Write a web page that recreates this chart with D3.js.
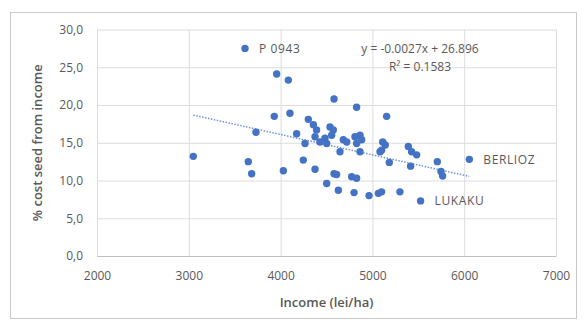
<!DOCTYPE html>
<html>
<head>
<meta charset="utf-8">
<script src="https://cdn.jsdelivr.net/npm/d3@7"></script>
<style>
  body { margin: 0; background: #fff; }
  text { font-family: "Open Sans", "Liberation Sans", sans-serif; fill: #595959; }
</style>
</head>
<body>
<div id="scatter"></div>
<script>
// income (lei/ha) vs % cost seed from income
var income = [3612, 3957, 4084, 4582, 4828, 3931, 4102, 4302, 5155, 3049,
  3732, 3648, 3685, 4030, 4175, 4266, 4247, 4375, 4502, 4582,
  4629, 4774, 4828, 4800, 4963, 5065, 5100, 5300, 4647, 4865,
  5083, 5184, 5112, 4357, 4392, 4375, 4429, 4502, 4538, 4574,
  4556, 4483, 4683, 4720, 4810, 4865, 4883, 4828, 5100, 5391,
  5427, 5482, 5416, 5707, 5747, 5765, 6056, 5525, 4610, 5140];
var costSeed = [27.5, 24.1, 23.3, 20.8, 19.7, 18.5, 18.9, 18.1, 18.5, 13.2,
  16.4, 12.5, 10.9, 11.3, 16.2, 14.9, 12.7, 11.5, 9.6, 10.9,
  8.7, 10.5, 10.3, 8.4, 8.0, 8.3, 8.5, 8.5, 13.8, 13.8,
  13.8, 12.4, 15.1, 17.4, 16.7, 15.8, 15.1, 14.9, 17.1, 16.7,
  16.0, 15.6, 15.4, 15.1, 15.8, 16.0, 15.4, 14.9, 14.0, 14.5,
  13.8, 13.4, 11.9, 12.5, 11.2, 10.6, 12.8, 7.3, 10.8, 14.7];

// named points
var labelNames = ["P 0943", "BERLIOZ", "LUKAKU"];
var labelIncome = [3612, 6056, 5525];
var labelCost = [27.5, 12.8, 7.3];

// linear trendline as printed on the chart
var slope = -0.0027;
var intercept = 26.896;
var equationText = "y = -0.0027x + 26.896";
var r2Text = "R\u00b2 = 0.1583";

var xTicks = [2000, 3000, 4000, 5000, 6000, 7000];
var yTicks = [0, 5, 10, 15, 20, 25, 30];

var svgWidth = 584;
var svgHeight = 325;

var margin = {
  top: 29.5,
  right: 28,
  bottom: 69,
  left: 97
};

var width = svgWidth - margin.left - margin.right;
var height = svgHeight - margin.top - margin.bottom;

var svg = d3.select("#scatter")
  .append("svg")
  .attr("width", svgWidth)
  .attr("height", svgHeight);

// chart area frame
svg.append("rect")
  .attr("x", 10.5)
  .attr("y", 12.5)
  .attr("width", 566)
  .attr("height", 306)
  .attr("fill", "#fff")
  .attr("stroke", "#c9c9c9");

var chartGroup = svg.append("g")
  .attr("transform", `translate(${margin.left}, ${margin.top})`);

var xLinearScale = d3.scaleLinear()
  .domain([2000, 7000])
  .range([0, width]);

var yLinearScale = d3.scaleLinear()
  .domain([0, 30])
  .range([height, 0]);

var commaFormat = function(d) { return d3.format(".1f")(d).replace(".", ","); };

// gridlines
chartGroup.append("g")
  .attr("class", "grid")
  .call(d3.axisLeft(yLinearScale).tickValues(yTicks).tickSize(-width).tickFormat(""))
  .call(g => g.select(".domain").remove())
  .selectAll("line").attr("stroke", "#dcdcdc");

chartGroup.append("g")
  .attr("class", "grid")
  .attr("transform", `translate(0, ${height})`)
  .call(d3.axisBottom(xLinearScale).tickValues(xTicks).tickSize(-height).tickFormat(""))
  .call(g => g.select(".domain").remove())
  .selectAll("line").attr("stroke", "#dcdcdc");

// axes
var bottomAxis = d3.axisBottom(xLinearScale).tickValues(xTicks).tickSize(0).tickPadding(15).tickFormat(d3.format("d"));
var leftAxis = d3.axisLeft(yLinearScale).tickValues(yTicks).tickSize(0).tickPadding(14).tickFormat(commaFormat);

var xAxisGroup = chartGroup.append("g")
  .attr("transform", `translate(0, ${height})`)
  .call(bottomAxis);
xAxisGroup.select(".domain").attr("stroke", "#bfbfbf");
xAxisGroup.selectAll("text").style("font-size", "12px").attr("fill", "#595959");

var yAxisGroup = chartGroup.append("g")
  .call(leftAxis);
yAxisGroup.select(".domain").remove();
yAxisGroup.selectAll("text").style("font-size", "12px").attr("fill", "#595959");

// trendline over the data range
var xExtent = d3.extent(income);
chartGroup.append("line")
  .attr("x1", xLinearScale(xExtent[0]))
  .attr("y1", yLinearScale(slope * xExtent[0] + intercept))
  .attr("x2", xLinearScale(xExtent[1]))
  .attr("y2", yLinearScale(slope * xExtent[1] + intercept))
  .attr("stroke", "#6b95d8")
  .attr("stroke-width", 1.5)
  .attr("stroke-dasharray", "1.5,1.5");

// points
chartGroup.selectAll("circle")
  .data(income)
  .enter()
  .append("circle")
  .attr("cx", (d, i) => xLinearScale(d))
  .attr("cy", (d, i) => yLinearScale(costSeed[i]))
  .attr("r", 3.7)
  .attr("fill", "#4472c4");

// point labels
chartGroup.selectAll(".pointLabel")
  .data(labelNames)
  .enter()
  .append("text")
  .attr("class", "pointLabel")
  .attr("x", (d, i) => xLinearScale(labelIncome[i]) + 14)
  .attr("y", (d, i) => yLinearScale(labelCost[i]))
  .attr("dy", "0.35em")
  .style("font-size", "12px")
  .style("letter-spacing", "0.6px")
  .text(d => d);

// equation
chartGroup.append("text")
  .attr("x", 323)
  .attr("y", 19)
  .attr("dy", "0.35em")
  .attr("text-anchor", "middle")
  .style("font-size", "12px")
  .text(equationText);

chartGroup.append("text")
  .attr("x", 323)
  .attr("y", 37)
  .attr("dy", "0.35em")
  .attr("text-anchor", "middle")
  .style("font-size", "12px")
  .text(r2Text);

// axis titles
chartGroup.append("text")
  .attr("x", width / 2)
  .attr("y", height + 46)
  .attr("dy", "0.35em")
  .attr("text-anchor", "middle")
  .style("font-size", "13px")
  .style("font-weight", "600")
  .text("Income (lei/ha)");

chartGroup.append("text")
  .attr("transform", "rotate(-90)")
  .attr("x", 0 - height / 2)
  .attr("y", 0 - 60)
  .attr("dy", "0.35em")
  .attr("text-anchor", "middle")
  .style("font-size", "13px")
  .style("font-weight", "600")
  .text("% cost seed from income");
</script>
</body>
</html>
